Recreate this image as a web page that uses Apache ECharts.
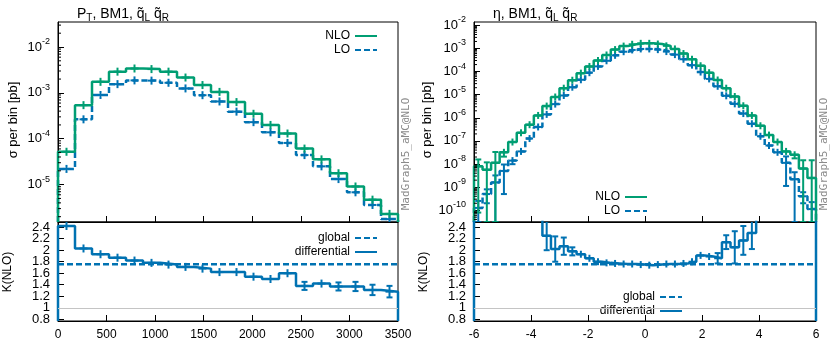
<!DOCTYPE html>
<html><head><meta charset="utf-8">
<script src="https://cdn.jsdelivr.net/npm/echarts@6/dist/echarts.min.js"></script>
<style>html,body{margin:0;padding:0;background:#fff}#c{width:830px;height:344px}</style>
</head><body><div id="c"></div>
<script>
// ---------------- data ----------------
const ptEdges = [0,175,350,525,700,875,1050,1225,1400,1575,1750,1925,2100,2275,2450,2625,2800,2975,3150,3325,3500];
const ptNLO = [5.2e-5,5.4e-4,1.74e-3,2.9e-3,3.4e-3,3.3e-3,2.9e-3,2.16e-3,1.48e-3,1.05e-3,6.3e-4,3.5e-4,2.0e-4,1.3e-4,6.1e-5,3.55e-5,1.77e-5,9.1e-6,4.7e-6,2.3e-6];
const ptLO  = [2.2e-5,2.65e-4,9.0e-4,1.55e-3,1.87e-3,1.85e-3,1.66e-3,1.25e-3,8.9e-4,6.5e-4,3.9e-4,2.3e-4,1.38e-4,8.1e-5,4.4e-5,2.5e-5,1.32e-5,6.8e-6,3.6e-6,1.77e-6];
const ptNLOErr = [0.04,0.015,0.01,0.01,0.01,0.01,0.01,0.01,0.01,0.012,0.015,0.015,0.02,0.02,0.03,0.03,0.035,0.04,0.05,0.06];
const ptLOErr  = [0.03,0.01,0.008,0.008,0.008,0.008,0.008,0.008,0.008,0.01,0.012,0.012,0.015,0.015,0.02,0.02,0.025,0.03,0.035,0.04];
const ptRatio = [2.42,2.03,1.93,1.87,1.82,1.78,1.75,1.71,1.68,1.62,1.62,1.54,1.50,1.60,1.38,1.42,1.37,1.37,1.31,1.28];
const ptRatioErr = [0.04,0.02,0.015,0.015,0.015,0.015,0.015,0.015,0.015,0.02,0.02,0.02,0.025,0.03,0.07,0.06,0.07,0.08,0.09,0.1];
const ptKGlobal = 1.755;
const ptXTicks = [0,500,1000,1500,2000,2500,3000,3500];
const ptYDecades = [-5,-4,-3,-2];

const etaEdges = [-6,-5.7,-5.4,-5.1,-4.8,-4.5,-4.2,-3.9,-3.6,-3.3,-3,-2.7,-2.4,-2.1,-1.8,-1.5,-1.2,-0.9,-0.6,-0.3,0,0.3,0.6,0.9,1.2,1.5,1.8,2.1,2.4,2.7,3,3.3,3.6,3.9,4.2,4.5,4.8,5.1,5.4,5.7,6];
const etaNLO = [7.9e-9,5.6e-9,1.12e-8,3.2e-8,8.9e-8,2.24e-7,5.0e-7,1.26e-6,3.2e-6,7.9e-6,1.9e-5,4.2e-5,8.5e-5,1.66e-4,3.0e-4,5.2e-4,8.9e-4,1.26e-3,1.51e-3,1.66e-3,1.66e-3,1.55e-3,1.29e-3,9.5e-4,6.0e-4,3.4e-4,1.78e-4,8.9e-5,4.3e-5,1.9e-5,8.3e-6,3.3e-6,1.26e-6,4.5e-7,1.78e-7,8.9e-8,3.5e-8,2.5e-8,6.3e-9,2.5e-9];
const etaLO  = [1.26e-10,5.0e-10,1.6e-9,5.0e-9,1.4e-8,3.5e-8,1.26e-7,4.0e-7,1.4e-6,3.9e-6,9.2e-6,2.1e-5,4.4e-5,8.9e-5,1.67e-4,2.92e-4,5.03e-4,7.2e-4,8.6e-4,9.5e-4,9.5e-4,8.85e-4,7.3e-4,5.4e-4,3.4e-4,1.89e-4,9.5e-5,4.8e-5,2.3e-5,8.9e-6,4.0e-6,1.52e-6,5.5e-7,1.58e-7,6.3e-8,3.2e-8,1.12e-8,2.2e-9,4.0e-10,1.12e-10];
const etaNLOErr = [0.99,1.1,1.95,0.35,0.2,0.12,0.08,0.05,0.04,0.03,0.02,0.015,0.01,0.01,0.008,0.006,0.005,0.005,0.005,0.005,0.005,0.005,0.005,0.005,0.006,0.008,0.01,0.01,0.015,0.02,0.03,0.04,0.05,0.06,0.1,0.15,0.25,0.3,1.3,4.8];
const etaLOErr  = [1.0,0.6,1.0,0.9,0.3,0.2,0.15,0.1,0.08,0.06,0.04,0.03,0.02,0.015,0.01,0.008,0.006,0.006,0.006,0.006,0.006,0.006,0.006,0.006,0.008,0.01,0.015,0.02,0.03,0.04,0.06,0.08,0.1,0.12,0.15,0.25,0.9,1.0,0.5,1.0];
const etaRatio = [63,11,7,6.4,6.4,6.4,4.0,3.15,2.25,2.02,2.07,1.98,1.93,1.86,1.80,1.78,1.77,1.76,1.76,1.75,1.74,1.75,1.76,1.76,1.77,1.80,1.91,1.89,1.86,2.14,2.05,2.17,2.30,2.85,2.83,2.78,3.1,11,16,22];
const etaRatioErr = [0.2,0.2,0.2,0.2,0.2,0.2,0.2,0.2,0.25,0.22,0.15,0.07,0.05,0.03,0.02,0.015,0.015,0.015,0.015,0.015,0.015,0.015,0.015,0.015,0.015,0.02,0.03,0.04,0.09,0.12,0.28,0.25,0.28,0.2,0.2,0.2,0.2,0.2,0.2,0.2];
const etaKGlobal = 1.755;
const etaXTicks = [-6,-4,-2,0,2,4,6];
const etaYDecades = [-10,-9,-8,-7,-6,-5,-4,-3,-2];

const ratioTicks = [0.8,1,1.2,1.4,1.6,1.8,2,2.2,2.4];

// ---------------- style / layout ----------------
const FONT = '"Liberation Sans", Arial, Helvetica, sans-serif';
const GREEN = '#009e73', BLUE = '#0072b2';
const PT_LOG = [-5.815, -1.455];
const ETA_LOG = [-10.51, -1.857];
const R_RANGE = [0.77, 2.49];

function centers(edges){ return edges.slice(0,-1).map((e,i)=>(e+edges[i+1])/2); }
function stepPts(edges, vals, base, tf){
  const f = tf || (v=>v);
  const pts = [[edges[0], base]];
  for (let i=0;i<vals.length;i++){ pts.push([edges[i], f(vals[i])]); pts.push([edges[i+1], f(vals[i])]); }
  pts.push([edges[edges.length-1], base]);
  return pts;
}
function errLog(edges, vals, rel, floor){
  return centers(edges).map((c,i)=>{
    const v=vals[i], e=rel[i];
    const hi=Math.log10(v*(1+e));
    const lo= e<1 ? Math.max(Math.log10(v*(1-e)), floor) : floor;
    return [c, Math.log10(v), lo, hi];
  });
}
function errLin(edges, vals, err){ return centers(edges).map((c,i)=>[c, vals[i], vals[i]-err[i], vals[i]+err[i]]); }

function crossSeries(xi, yi, data, color, half){
  return {
    type:'custom', xAxisIndex:xi, yAxisIndex:yi, clip:true, silent:true, z:3, data,
    renderItem(params, api){
      const x=api.value(0), y=api.value(1), lo=api.value(2), hi=api.value(3);
      const c=api.coord([x,y]), cl=api.coord([x,lo]), ch=api.coord([x,hi]);
      const st={stroke:color, lineWidth:2};
      const ch1=[
        {type:'line', shape:{x1:c[0]-half,y1:c[1],x2:c[0]+half,y2:c[1]}, style:st},
        {type:'line', shape:{x1:c[0],y1:Math.min(c[1]-half,ch[1]),x2:c[0],y2:Math.max(c[1]+half,cl[1])}, style:st}
      ];
      if (cl[1]-c[1] > half) ch1.push({type:'line', shape:{x1:c[0]-3,y1:cl[1],x2:c[0]+3,y2:cl[1]}, style:st});
      if (c[1]-ch[1] > half) ch1.push({type:'line', shape:{x1:c[0]-3,y1:ch[1],x2:c[0]+3,y2:ch[1]}, style:st});
      return {type:'group', children:ch1};
    }
  };
}
function minorTickSeries(xi, yi, xMin, range){
  const data=[];
  for (let d=Math.floor(range[0]); d<Math.ceil(range[1]); d++)
    for (let k=2;k<=9;k++){ const v=d+Math.log10(k); if (v>range[0] && v<range[1]) data.push([xMin, v]); }
  return {
    type:'custom', xAxisIndex:xi, yAxisIndex:yi, silent:true, z:4, data,
    renderItem(params, api){
      const c=api.coord([api.value(0), api.value(1)]);
      return {type:'line', shape:{x1:c[0],y1:c[1],x2:c[0]+3,y2:c[1]}, style:{stroke:'#000', lineWidth:1}};
    }
  };
}
function histSeries(name, xi, yi, pts, color, dashed){
  return {
    name, type:'line', xAxisIndex:xi, yAxisIndex:yi, data:pts, symbol:'none', showSymbol:false,
    clip:true, z:2, animation:false,
    lineStyle:{color, width:2.5, type: dashed ? [6,3] : 'solid'}, itemStyle:{color}
  };
}

const axisCommon = {
  axisLine:{show:true, onZero:false, lineStyle:{color:'#000', width:1}},
  axisTick:{show:true, inside:true, length:6, lineStyle:{color:'#000', width:1}},
  splitLine:{show:false}
};
function xAx(gi, ticks, showLabel){
  return Object.assign({}, JSON.parse(JSON.stringify(axisCommon)), {
    type:'value', gridIndex:gi, position:'bottom', min:ticks[0], max:ticks[ticks.length-1], interval:ticks[1]-ticks[0],
    axisLabel:{show:showLabel, color:'#000', fontFamily:FONT, fontSize:12, margin:8, showMinLabel:true, showMaxLabel:true,
      formatter:(v)=>String(v)}
  });
}
function logYAx(gi, range, decades){
  return Object.assign({}, JSON.parse(JSON.stringify(axisCommon)), {
    type:'value', gridIndex:gi, min:range[0], max:range[1], splitNumber: decades.length,
    axisLabel:{color:'#000', fontFamily:FONT, fontSize:13, margin:8, showMinLabel:false, showMaxLabel:false,
      formatter:(v)=> decades.some(d=>Math.abs(d-v)<1e-6) ? '10{sup|' + Math.round(v) + '}' : '',
      rich:{sup:{fontSize:9, fontFamily:FONT, color:'#000', lineHeight:9, padding:[0,0,11,0]}}}
  });
}
function ratioYAx(gi){
  return Object.assign({}, JSON.parse(JSON.stringify(axisCommon)), {
    type:'value', gridIndex:gi, min:R_RANGE[0], max:R_RANGE[1], splitNumber:8,
    axisLabel:{color:'#000', fontFamily:FONT, fontSize:13, margin:8, showMinLabel:false, showMaxLabel:false,
      formatter:(v)=> ratioTicks.some(t=>Math.abs(t-v)<1e-6) ? String(Math.round(v*10)/10) : ''}
  });
}
function legend(names, right, top){
  return {data:names, orient:'vertical', align:'right', right, top, itemWidth:22, itemHeight:12, itemGap:2,
    selectedMode:false, itemStyle:{opacity:0, color:'transparent', borderWidth:0},
    textStyle:{fontFamily:FONT, fontSize:12, color:'#000'}};
}
function globalSeries(xi, yi, xr, K){
  return {
    name:'global', type:'line', xAxisIndex:xi, yAxisIndex:yi, data:[[xr[0],K],[xr[1],K]], symbol:'none',
    lineStyle:{color:BLUE, width:2.5, type:[6,3]}, itemStyle:{color:BLUE}, z:2,
    markLine:{silent:true, symbol:'none', animation:false, label:{show:false},
      lineStyle:{color:'#c4c4c4', width:1, type:'solid'}, data:[{yAxis:1}]}
  };
}

const ptX = [ptXTicks[0], ptXTicks[ptXTicks.length-1]];
const etaX = [etaXTicks[0], etaXTicks[etaXTicks.length-1]];
const L = Math.log10;

const gridBase = {show:true, borderColor:'#000', borderWidth:1, backgroundColor:'transparent', containLabel:false, outerBoundsMode:'none'};
const titleStyle = {fontFamily:FONT, fontSize:14, fontWeight:'normal', color:'#000',
  rich:{sub:{fontFamily:FONT, fontSize:10, color:'#000', lineHeight:10, padding:[9,0,0,0]}}};

const option = {
  animation:false,
  backgroundColor:'#fff',
  title:[
    {text:'P{sub|T}, BM1, q\u0303{sub|L} q\u0303{sub|R}', left:72, top:2, textStyle:titleStyle},
    {text:'\u03B7, BM1, q\u0303{sub|L} q\u0303{sub|R}', left:488, top:2, textStyle:titleStyle}
  ],
  grid:[
    Object.assign({left:58, top:22, width:340, height:200}, gridBase),
    Object.assign({left:58, top:222, width:340, height:99}, gridBase),
    Object.assign({left:474, top:22, width:342, height:200}, gridBase),
    Object.assign({left:474, top:222, width:342, height:99}, gridBase)
  ],
  xAxis:[ xAx(0, ptXTicks, false), xAx(1, ptXTicks, true), xAx(2, etaXTicks, false), xAx(3, etaXTicks, true) ],
  yAxis:[ logYAx(0, PT_LOG, ptYDecades), ratioYAx(1), logYAx(2, ETA_LOG, etaYDecades), ratioYAx(3) ],
  legend:[
    legend(['NLO','LO'], 447, 25),
    legend(['global','differential'], 447, 227),
    legend(['NLO','LO'], 177, 186),
    legend(['global','differential'], 142, 286)
  ],
  graphic:[
    {type:'text', x:13, y:120, rotation:Math.PI/2, style:{text:'\u03C3 per bin [pb]', font:'13px ' + FONT, fill:'#000', align:'center', verticalAlign:'middle'}},
    {type:'text', x:8, y:272, rotation:Math.PI/2, style:{text:'K(NLO)', font:'12px ' + FONT, fill:'#000', align:'center', verticalAlign:'middle'}},
    {type:'text', x:427, y:120, rotation:Math.PI/2, style:{text:'\u03C3 per bin [pb]', font:'13px ' + FONT, fill:'#000', align:'center', verticalAlign:'middle'}},
    {type:'text', x:424, y:272, rotation:Math.PI/2, style:{text:'K(NLO)', font:'12px ' + FONT, fill:'#000', align:'center', verticalAlign:'middle'}},
    {type:'text', x:406, y:154, rotation:Math.PI/2, style:{text:'MadGraph5_aMC@NLO', font:'11px "DejaVu Sans Mono", monospace', fill:'#8a8a8a', align:'center', verticalAlign:'middle'}},
    {type:'text', x:824, y:154, rotation:Math.PI/2, style:{text:'MadGraph5_aMC@NLO', font:'11px "DejaVu Sans Mono", monospace', fill:'#8a8a8a', align:'center', verticalAlign:'middle'}}
  ],
  series:[
    // left top
    histSeries('LO', 0, 0, stepPts(ptEdges, ptLO, PT_LOG[0], L), BLUE, true),
    histSeries('NLO', 0, 0, stepPts(ptEdges, ptNLO, PT_LOG[0], L), GREEN, false),
    crossSeries(0, 0, errLog(ptEdges, ptLO, ptLOErr, PT_LOG[0]), BLUE, 4),
    crossSeries(0, 0, errLog(ptEdges, ptNLO, ptNLOErr, PT_LOG[0]), GREEN, 4),
    minorTickSeries(0, 0, ptX[0], PT_LOG),
    // left bottom
    globalSeries(1, 1, ptX, ptKGlobal),
    histSeries('differential', 1, 1, stepPts(ptEdges, ptRatio, R_RANGE[0]), BLUE, false),
    crossSeries(1, 1, errLin(ptEdges, ptRatio, ptRatioErr), BLUE, 4),
    // right top
    histSeries('LO', 2, 2, stepPts(etaEdges, etaLO, ETA_LOG[0], L), BLUE, true),
    histSeries('NLO', 2, 2, stepPts(etaEdges, etaNLO, ETA_LOG[0], L), GREEN, false),
    crossSeries(2, 2, errLog(etaEdges, etaLO, etaLOErr, ETA_LOG[0]), BLUE, 3.5),
    crossSeries(2, 2, errLog(etaEdges, etaNLO, etaNLOErr, ETA_LOG[0]), GREEN, 3.5),
    minorTickSeries(2, 2, etaX[0], ETA_LOG),
    // right bottom
    globalSeries(3, 3, etaX, etaKGlobal),
    histSeries('differential', 3, 3, stepPts(etaEdges, etaRatio, R_RANGE[0]), BLUE, false),
    crossSeries(3, 3, errLin(etaEdges, etaRatio, etaRatioErr), BLUE, 3.5)
  ]
};
const chart = echarts.init(document.getElementById('c'), null, {renderer:'canvas'});
chart.setOption(option);
</script>
</body></html>
